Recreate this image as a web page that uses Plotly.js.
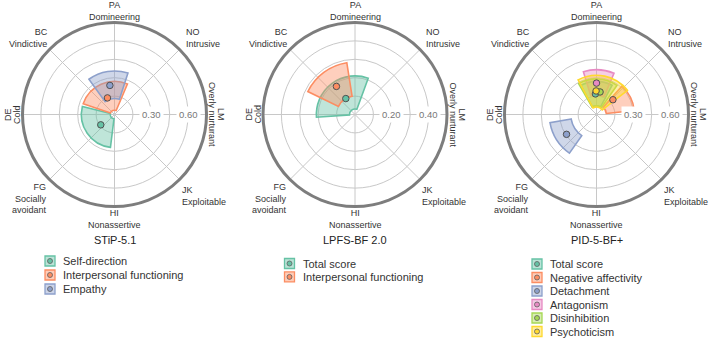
<!DOCTYPE html>
<html><head><meta charset="utf-8">
<script src="https://cdn.plot.ly/plotly-3.0.1.min.js"></script>
<style>html,body{margin:0;padding:0;background:#fff}#chart{width:709px;height:339px}</style>
</head><body><div id="chart"></div>
<script>
// ---------------- data ----------------
const octantAngles = [0, 45, 90, 135, 180, 225, 270, 315];
const octantCodes = ['LM', 'NO', 'PA', 'BC', 'DE', 'FG', 'HI', 'JK'];
const octantNames = ['Overly nurturant', 'Intrusive', 'Domineering', 'Vindictive', 'Cold', 'Socially<br>avoidant', 'Nonassertive', 'Exploitable'];

const panelTitles = ['STiP-5.1', 'LPFS-BF 2.0', 'PID-5-BF+'];
const panelRadialMax = [0.75, 0.5, 0.75];
const panelTickVals = [[0.15, 0.30, 0.45, 0.60], [0.1, 0.2, 0.3, 0.4], [0.15, 0.30, 0.45, 0.60]];
const panelTickLabels = [['', '0.30', '', '0.60'], ['', '0.20', '', '0.40'], ['', '0.30', '', '0.60']];

// STiP-5.1
const stipNames = ['Self-direction', 'Interpersonal functioning', 'Empathy'];
const stipColors = ['#66c2a5', '#fc8d62', '#8da0cb'];
const stipAngle = [217, 113, 99];
const stipAmp = [0.14, 0.147, 0.24];
const stipAngleLo = [166, 67, 72];
const stipAngleHi = [263, 161, 126];
const stipAmpLo = [0.035, 0.035, 0.13];
const stipAmpHi = [0.27, 0.27, 0.355];

// LPFS-BF 2.0
const lpfsNames = ['Total score', 'Interpersonal functioning'];
const lpfsColors = ['#66c2a5', '#fc8d62'];
const lpfsAngle = [120, 123.5];
const lpfsAmp = [0.10, 0.183];
const lpfsAngleLo = [70, 99];
const lpfsAngleHi = [184, 154];
const lpfsAmpLo = [0.03, 0.10];
const lpfsAmpHi = [0.21, 0.285];

// PID-5-BF+
const pidNames = ['Total score', 'Negative affectivity', 'Detachment', 'Antagonism', 'Disinhibition', 'Psychoticism'];
const pidColors = ['#66c2a5', '#fc8d62', '#8da0cb', '#e78ac3', '#a6d854', '#ffd92f'];
const pidAngle = [93, 42, 213.5, 90, 81, 91];
const pidAmp = [0.168, 0.18, 0.293, 0.256, 0.186, 0.192];
const pidAngleLo = [62, 6, 190, 67, 55, 38];
const pidAngleHi = [118, 48, 235, 107, 120, 118];
const pidAmpLo = [0.07, 0.08, 0.21, 0.16, 0.07, 0.06];
const pidAmpHi = [0.27, 0.31, 0.385, 0.365, 0.29, 0.32];

// ---------------- layout helpers ----------------
const W = 709, H = 339, R = 92;
const centers = [[114.5, 114.5], [355, 114.5], [596.5, 114.5]];
const GRID = '#c8c8c8';
const FONT = 'Liberation Sans, Arial, sans-serif';
const TXT = '#333333';

function rgba(hex, a) {
  const v = parseInt(hex.slice(1), 16);
  return 'rgba(' + ((v >> 16) & 255) + ',' + ((v >> 8) & 255) + ',' + (v & 255) + ',' + a + ')';
}

const panels = [
  {names: stipNames, colors: stipColors, ang: stipAngle, amp: stipAmp, aLo: stipAngleLo, aHi: stipAngleHi, rLo: stipAmpLo, rHi: stipAmpHi},
  {names: lpfsNames, colors: lpfsColors, ang: lpfsAngle, amp: lpfsAmp, aLo: lpfsAngleLo, aHi: lpfsAngleHi, rLo: lpfsAmpLo, rHi: lpfsAmpHi},
  {names: pidNames, colors: pidColors, ang: pidAngle, amp: pidAmp, aLo: pidAngleLo, aHi: pidAngleHi, rLo: pidAmpLo, rHi: pidAmpHi}
];

// label placement relative to circle centre (px): dx, dy, anchor
const labelPlace = {
  45: [69, -77, 'left'],
  90: [0, -104, 'center'],
  135: [-65, -77, 'right'],
  225: [-66, 84, 'right'],
  270: [0, 104, 'center'],
  315: [65, 81, 'left']
};
// rotated labels: [code dx, name dx, textangle]
const rotatedPlace = {
  0: [107, 98, 90],
  180: [-107, -98, -90]
};

const legendBoxX = [50, 289.5, 537];
const legendTopY = [261, 263.5, 264];
const legendStep = [14, 13.4, 13.5];

const traces = [];
const annotations = [];
const layout = {
  width: W, height: H,
  margin: {l: 0, r: 0, t: 0, b: 0},
  paper_bgcolor: '#ffffff',
  showlegend: false,
  font: {family: FONT, color: TXT},
  annotations: annotations
};

panels.forEach((p, i) => {
  const sub = i === 0 ? 'polar' : 'polar' + (i + 1);
  const [cx, cy] = centers[i];
  layout[sub] = {
    domain: {x: [(cx - R) / W, (cx + R) / W], y: [1 - (cy + R) / H, 1 - (cy - R) / H]},
    bgcolor: 'rgba(0,0,0,0)',
    radialaxis: {range: [0, panelRadialMax[i]], tickmode: 'array', tickvals: panelTickVals[i],
      showticklabels: false, ticks: '', showline: false, gridcolor: GRID, gridwidth: 1, angle: 0},
    angularaxis: {rotation: 0, direction: 'counterclockwise', tickmode: 'array', tickvals: octantAngles,
      showticklabels: false, ticks: '', gridcolor: GRID, gridwidth: 1, showline: true, linecolor: '#7d7d7d', linewidth: 3}
  };
  // sectors
  p.names.forEach((n, k) => {
    traces.push({
      type: 'barpolar', subplot: sub, name: n,
      theta: [(p.aLo[k] + p.aHi[k]) / 2], width: [p.aHi[k] - p.aLo[k]],
      base: [p.rLo[k]], r: [p.rHi[k] - p.rLo[k]],
      marker: {color: rgba(p.colors[k], 0.42), line: {color: p.colors[k], width: 1.6}},
      hoverinfo: 'skip'
    });
  });
  // points
  p.names.forEach((n, k) => {
    traces.push({
      type: 'scatterpolar', subplot: sub, name: n, mode: 'markers',
      theta: [p.ang[k]], r: [p.amp[k]],
      marker: {size: 6.5, color: p.colors[k], line: {color: '#505050', width: 1}},
      hoverinfo: 'skip'
    });
  });
  // octant labels
  octantAngles.forEach((a, k) => {
    if (rotatedPlace[a]) {
      const [dc, dn, ta] = rotatedPlace[a];
      [[dc, octantCodes[k]], [dn, octantNames[k]]].forEach(([d, t]) => {
        annotations.push({
          xref: 'paper', yref: 'paper', x: (cx + d) / W, y: 1 - cy / H,
          xanchor: 'center', yanchor: 'middle', text: t, textangle: ta,
          showarrow: false, font: {size: 9, color: TXT, family: FONT}
        });
      });
      return;
    }
    const [dx, dy, anc] = labelPlace[a];
    annotations.push({
      xref: 'paper', yref: 'paper', x: (cx + dx) / W, y: 1 - (cy + dy) / H,
      xanchor: anc, yanchor: 'middle', align: anc,
      text: octantCodes[k] + '<br>' + octantNames[k],
      showarrow: false, font: {size: 9, color: TXT, family: FONT}
    });
  });
  // radial tick labels
  panelTickVals[i].forEach((v, k) => {
    if (!panelTickLabels[i][k]) return;
    annotations.push({
      xref: 'paper', yref: 'paper', x: (cx + v / panelRadialMax[i] * R) / W, y: 1 - cy / H,
      xanchor: 'center', yanchor: 'middle', text: panelTickLabels[i][k], showarrow: false,
      bgcolor: '#ffffff', borderpad: 2, font: {size: 9.5, color: '#777777', family: FONT}
    });
  });
  // title
  annotations.push({
    xref: 'paper', yref: 'paper', x: cx / W, y: 1 - (cy + 125.5) / H,
    xanchor: 'center', yanchor: 'middle', text: panelTitles[i], showarrow: false,
    font: {size: 11, color: '#222222', family: FONT}
  });
  // legend (hidden cartesian axes)
  const xa = i === 0 ? 'xaxis' : 'xaxis' + (i + 1);
  const ya = i === 0 ? 'yaxis' : 'yaxis' + (i + 1);
  const xr = i === 0 ? 'x' : 'x' + (i + 1);
  const yr = i === 0 ? 'y' : 'y' + (i + 1);
  const n = p.names.length;
  const top = legendTopY[i] - legendStep[i] / 2;
  const bot = legendTopY[i] + (n - 0.5) * legendStep[i];
  layout[xa] = {domain: [(legendBoxX[i] - 20) / W, (legendBoxX[i] + 20) / W], range: [-1, 1], visible: false, fixedrange: true, anchor: yr};
  layout[ya] = {domain: [1 - bot / H, 1 - top / H], range: [n - 0.5, -0.5], visible: false, fixedrange: true, anchor: xr};
  const idx = p.names.map((_, k) => k);
  const zeros = p.names.map(() => 0);
  traces.push({
    type: 'scatter', xaxis: xr, yaxis: yr, x: zeros, y: idx, mode: 'markers', cliponaxis: false,
    marker: {symbol: 'square', size: 10, color: p.colors.map(c => rgba(c, 0.45)), line: {color: p.colors, width: 1.3}},
    hoverinfo: 'skip'
  });
  traces.push({
    type: 'scatter', xaxis: xr, yaxis: yr, x: zeros, y: idx, mode: 'markers', cliponaxis: false,
    marker: {symbol: 'circle', size: 5, color: p.colors, line: {color: '#606060', width: 0.8}},
    hoverinfo: 'skip'
  });
  p.names.forEach((nm, k) => {
    annotations.push({
      xref: xr, yref: yr, x: 0, y: k, xanchor: 'left', yanchor: 'middle', xshift: 11,
      text: nm, showarrow: false, font: {size: 11, color: TXT, family: FONT}
    });
  });
});

Plotly.newPlot('chart', traces, layout, {displayModeBar: false, staticPlot: true});
</script>
</body></html>
